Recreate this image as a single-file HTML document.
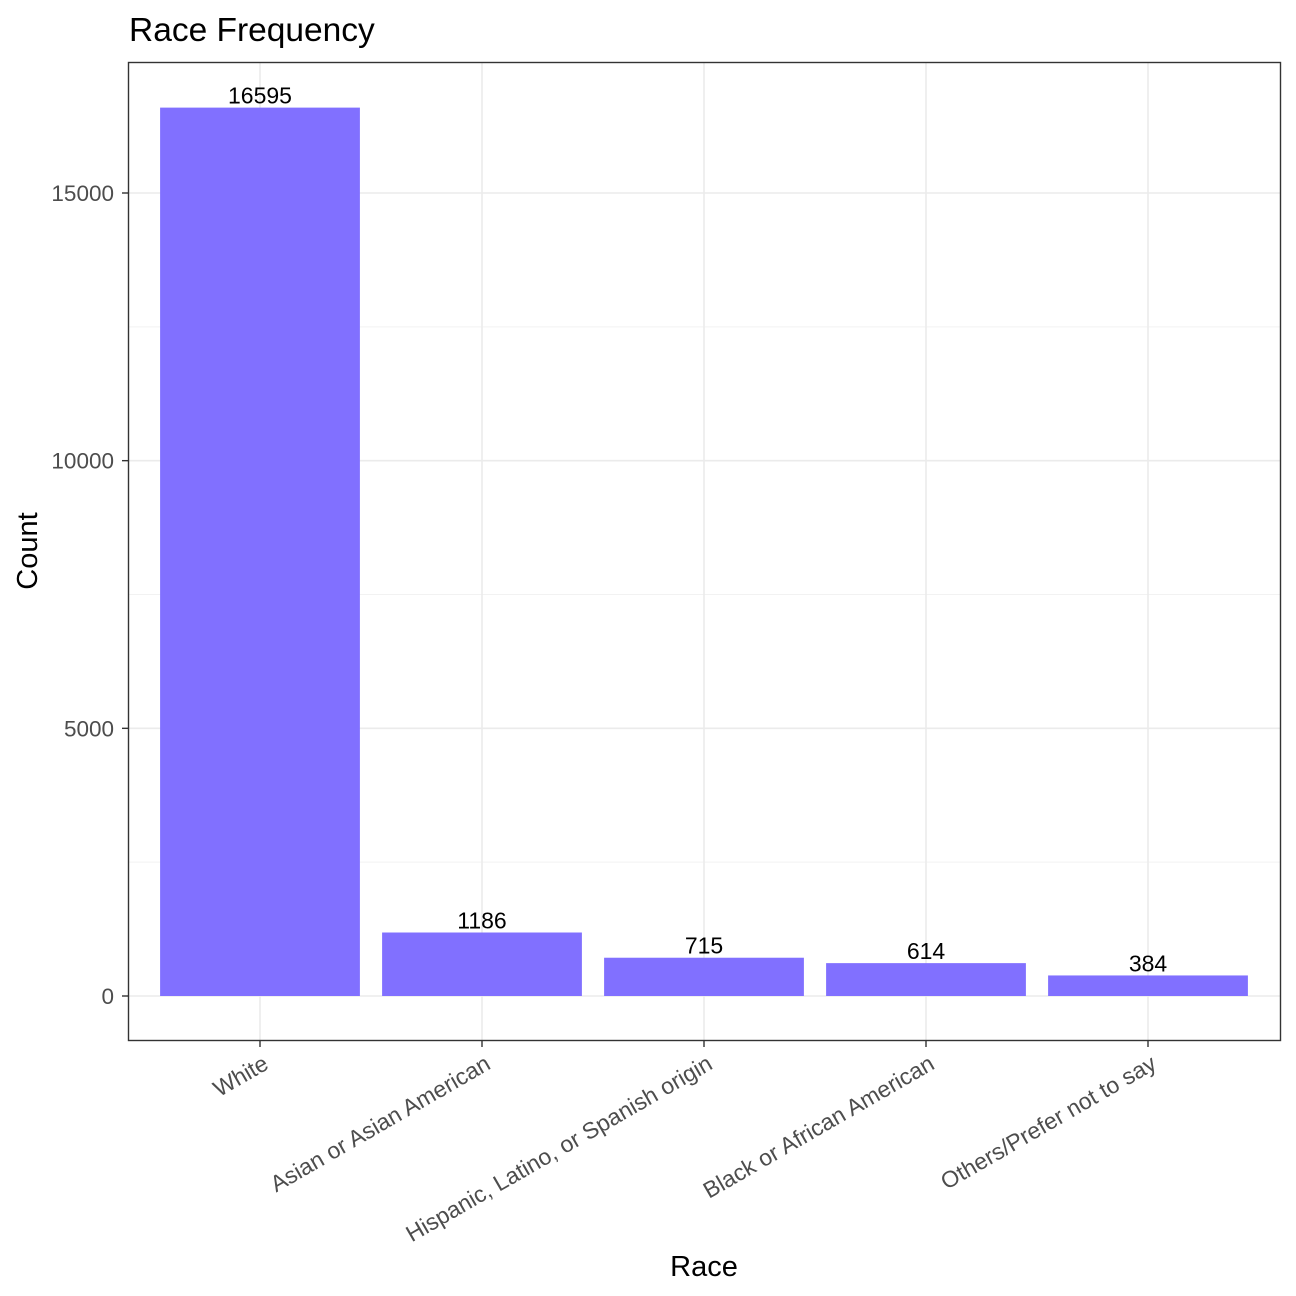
<!DOCTYPE html>
<html><head><meta charset="utf-8"><style>
body{margin:0;background:#fff;}
svg{display:block;font-family:"Liberation Sans",Arial,sans-serif;}
</style></head><body>
<svg id="chart" width="1296" height="1296" viewBox="0 0 1296 1296">
<text x="129" y="41" font-size="33.5" fill="#000">Race Frequency</text>
<g id="grid"></g>
<g id="bars"></g>
<g id="labels"></g>
<rect x="128.5" y="62.5" width="1152" height="978" fill="none" stroke="#333" stroke-width="1.4"/>
<g id="yaxis"></g>
<g id="xaxis"></g>
<text x="704" y="1276" font-size="29" text-anchor="middle" fill="#000">Race</text>
<text transform="translate(37,551) rotate(-90)" font-size="29" text-anchor="middle" fill="#000">Count</text>
</svg>
<script>
const categories=["White","Asian or Asian American","Hispanic, Latino, or Spanish origin","Black or African American","Others/Prefer not to say"];
const counts=[16595,1186,715,614,384];
const yTicks=[0,5000,10000,15000];
const yMinor=[2500,7500,12500];
const NS="http://www.w3.org/2000/svg";
const y0=996, unitPx=(996-193)/15000;
const y=v=>y0-v*unitPx;
const x=i=>260+i*222;
const bw=199.8;
function mk(tag,attrs,parent){const e=document.createElementNS(NS,tag);for(const k in attrs)e.setAttribute(k,attrs[k]);parent.appendChild(e);return e;}
const grid=document.getElementById('grid'),bars=document.getElementById('bars'),labels=document.getElementById('labels'),ya=document.getElementById('yaxis'),xa=document.getElementById('xaxis');
yMinor.forEach(v=>{const l=mk('line',{x1:128,x2:1281,y1:y(v),y2:y(v),stroke:'#f2f2f2','stroke-width':1},grid);

});
yTicks.forEach(v=>{const l=mk('line',{x1:128,x2:1281,y1:y(v),y2:y(v),stroke:'#ebebeb','stroke-width':1.6},grid);


const t=mk('line',{x1:122,x2:128,y1:y(v),y2:y(v),stroke:'#333','stroke-width':1.4},ya);


const tx=mk('text',{x:114,y:y(v)+8,'font-size':22.5,'text-anchor':'end',fill:'#4d4d4d'},ya);tx.textContent=v;

});
categories.forEach((c,i)=>{const l=mk('line',{x1:x(i),x2:x(i),y1:62,y2:1041,stroke:'#ebebeb','stroke-width':1.6},grid);


const r=mk('rect',{x:x(i)-bw/2,y:y(counts[i]),width:bw,height:y0-y(counts[i]),fill:'#8170ff'},bars);


const lt=mk('text',{x:x(i),y:y(counts[i])-4,'font-size':23,'text-anchor':'middle',fill:'#000'},labels);lt.textContent=counts[i];


const t=mk('line',{x1:x(i),x2:x(i),y1:1041,y2:1047,stroke:'#333','stroke-width':1.4},xa);


const tx=mk('text',{transform:`translate(${x(i)+10},${1068}) rotate(-30)`,'font-size':23,'text-anchor':'end',fill:'#4d4d4d'},xa);tx.textContent=c;

});
</script>
</body></html>
